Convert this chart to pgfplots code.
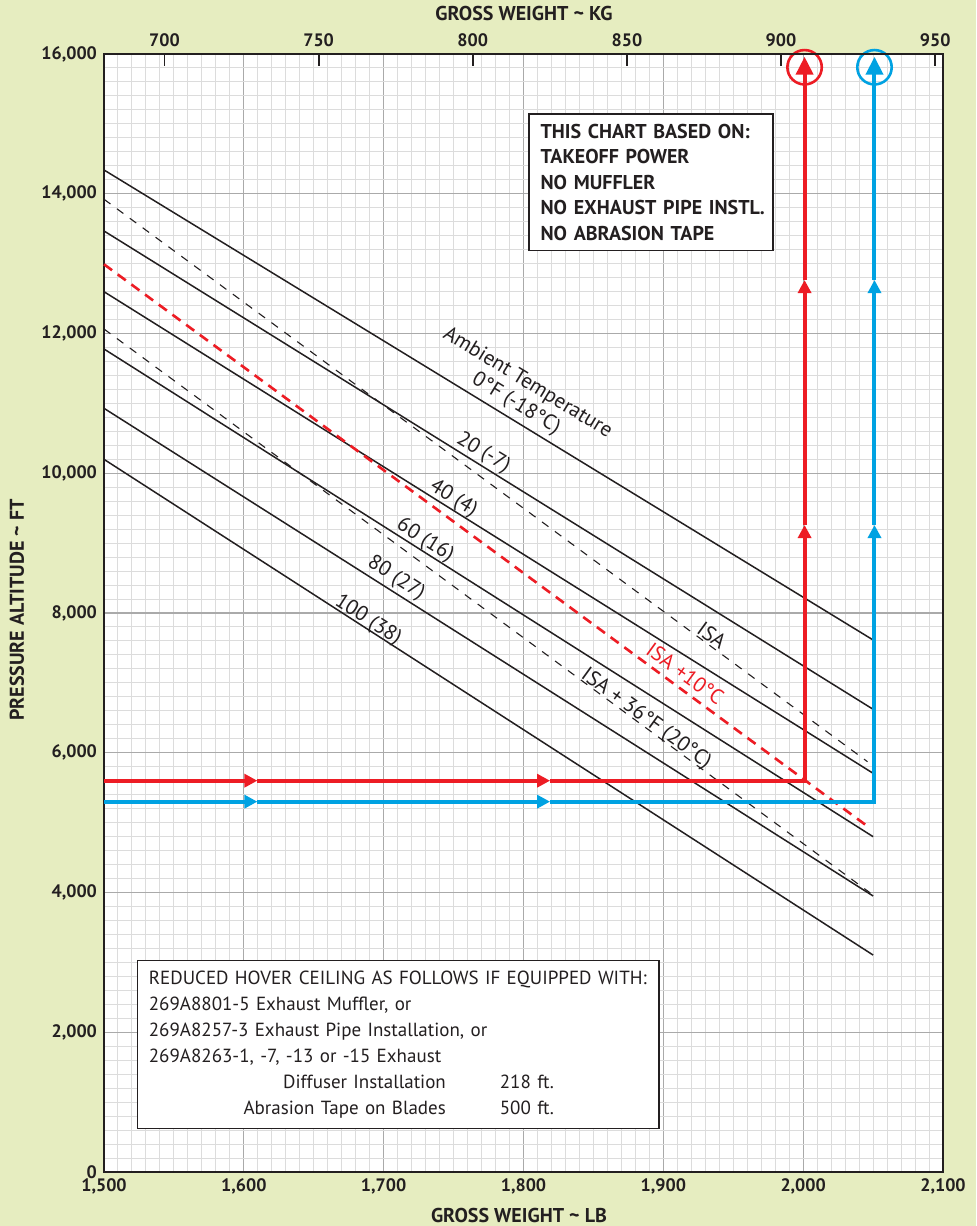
\documentclass[border=0pt]{standalone}
\usepackage{fontspec}
\setmainfont{PT Sans}
\usepackage{pgfplots}
\pgfplotsset{compat=1.18}
\usetikzlibrary{arrows.meta}
\pgfdeclarelayer{background}
\pgfsetlayers{background,main}

\definecolor{bggreen}{HTML}{E6EDC0}
\definecolor{figred}{HTML}{ED1C24}
\definecolor{figblue}{HTML}{00A2E2}
\definecolor{gridmin}{HTML}{DCDCDC}
\definecolor{gridmaj}{HTML}{AAAAAA}
\definecolor{txt}{HTML}{231F20}

\begin{document}
\begin{tikzpicture}
\begin{axis}[
    scale only axis,
    width=419.5pt, height=559pt,
    xmin=1500, xmax=2100, ymin=0, ymax=16000,
    xtick={1500,1600,...,2100},
    ytick={0,2000,...,16000},
    scaled ticks=false,
    minor x tick num=9, minor y tick num=9,
    grid=both,
    major grid style={draw=gridmaj, line width=0.6pt},
    minor grid style={draw=gridmin, line width=0.5pt},
    major tick length=0pt, minor tick length=0pt,
    axis line style={draw=txt, line width=0.9pt},
    axis background/.style={fill=white},
    /pgf/number format/1000 sep={,},
    /pgf/number format/assume math mode=true,
    tick label style={font=\fontsize{9}{10}\selectfont\bfseries, text=txt},
    xlabel={GROSS WEIGHT \textasciitilde\ LB},
    ylabel={PRESSURE ALTITUDE \textasciitilde\ FT},
    label style={font=\fontsize{10}{11}\selectfont\bfseries, text=txt},
    xlabel style={at={(rel axis cs:0.4946,-0.0385)}, anchor=center},
    ylabel style={at={(rel axis cs:-0.1037,0.5027)}, anchor=center},
    clip=false,
]
% temperature lines (solid)
\addplot[draw=txt, line width=0.75pt] coordinates {(1500,14340) (2050,7614)};   % 0 F
\addplot[draw=txt, line width=0.75pt] coordinates {(1500,13467) (2050,6622)};   % 20
\addplot[draw=txt, line width=0.75pt] coordinates {(1500,12598) (2050,5706)};   % 40
\addplot[draw=txt, line width=0.75pt] coordinates {(1500,11778) (2050,4799)};   % 60
\addplot[draw=txt, line width=0.75pt] coordinates {(1500,10929) (2050,3950)};   % 80
\addplot[draw=txt, line width=0.75pt] coordinates {(1500,10199) (2050,3105)};   % 100
% ISA lines (dashed)
\addplot[draw=txt, line width=0.55pt, dash pattern=on 4pt off 4pt] coordinates {(1500,13921) (2046,5872)};
\addplot[draw=txt, line width=0.55pt, dash pattern=on 4pt off 4pt] coordinates {(1500,12064) (2048,3993)};
\addplot[draw=figred, line width=1.3pt, dash pattern=on 5pt off 3.5pt] coordinates {(1500,12990) (2047,4933)};

% red example path
\addplot[draw=figred, line width=2pt, -{Triangle[length=6.5pt,width=6.5pt]}] coordinates {(1500,5600) (1609.7,5600)};
\addplot[draw=figred, line width=2pt, -{Triangle[length=6.5pt,width=6.5pt]}] coordinates {(1609.7,5600) (1819,5600)};
\addplot[draw=figred, line width=2pt, -{Triangle[length=6.5pt,width=6.5pt]}] coordinates {(1819,5600) (2001,5600) (2001,9259)};
\addplot[draw=figred, line width=2pt, -{Triangle[length=6.5pt,width=6.5pt]}] coordinates {(2001,9259) (2001,12765)};
\addplot[draw=figred, line width=2pt, -{Triangle[length=9pt,width=8.5pt]}] coordinates {(2001,12765) (2001,15961)};
\addplot[only marks, mark=o, mark size=8.6pt, mark options={draw=figred, line width=1.3pt}] coordinates {(2001,15810)};

% blue example path
\addplot[draw=figblue, line width=2pt, -{Triangle[length=6.5pt,width=6.5pt]}] coordinates {(1500,5300) (1609.7,5300)};
\addplot[draw=figblue, line width=2pt, -{Triangle[length=6.5pt,width=6.5pt]}] coordinates {(1609.7,5300) (1819,5300)};
\addplot[draw=figblue, line width=2pt, -{Triangle[length=6.5pt,width=6.5pt]}] coordinates {(1819,5300) (2051,5300) (2051,9259)};
\addplot[draw=figblue, line width=2pt, -{Triangle[length=6.5pt,width=6.5pt]}] coordinates {(2051,9259) (2051,12765)};
\addplot[draw=figblue, line width=2pt, -{Triangle[length=9pt,width=8.5pt]}] coordinates {(2051,12765) (2051,15961)};
\addplot[only marks, mark=o, mark size=8.6pt, mark options={draw=figblue, line width=1.3pt}] coordinates {(2051,15810)};

% line labels
\begin{scope}[every node/.style={font=\fontsize{10.5}{11}\selectfont, text=txt, inner sep=0pt}]
\node[rotate=-31.4] at (axis cs:1802.9,11290) {Ambient Temperature};
\node[rotate=-31.4] at (axis cs:1794.6,10990) {0°F (-18°C)};
\node[rotate=-31.4] at (axis cs:1771.3,10290) {20 (-7)};
\node[rotate=-31.8] at (axis cs:1749.9,9635) {40 (4)};
\node[rotate=-32] at (axis cs:1729.6,9040) {60 (16)};
\node[rotate=-32.4] at (axis cs:1708.9,8495) {80 (27)};
\node[rotate=-32.8] at (axis cs:1688.8,7895) {100 (38)};
\node[rotate=-36] at (axis cs:1934.7,7680) {ISA};
\node[rotate=-36, text=figred] at (axis cs:1915.6,7130) {ISA +10°C};
\node[rotate=-36] at (axis cs:1887.6,6485) {ISA + 36°F (20°C)};
\end{scope}

% notes
\node[draw=txt, line width=0.6pt, fill=white, anchor=north west,
      inner xsep=5.8pt, inner ysep=5pt, text width=110.4pt, align=left,
      font=\fontsize{10}{12.8}\selectfont\bfseries, text=txt]
  at (axis cs:1803.5,15151)
  {THIS CHART BASED ON:\\TAKEOFF POWER\\NO MUFFLER\\\mbox{NO EXHAUST PIPE INSTL.}\\NO ABRASION TAPE};
\node[draw=txt, line width=0.6pt, fill=white, anchor=north west,
      inner xsep=5.5pt, inner ysep=5.3pt, text width=249.5pt, align=left,
      font=\fontsize{9.5}{13}\selectfont, text=txt]
  at (axis cs:1523.8,3040)
  {\mbox{REDUCED HOVER CEILING AS FOLLOWS IF EQUIPPED WITH:}\\
   269A8801-5 Exhaust Muffler, or\\
   269A8257-3 Exhaust Pipe Installation, or\\
   269A8263-1, -7, -13 or -15 Exhaust\\
   \makebox[148.5pt][r]{Diffuser Installation}\hspace{27pt}218 ft.\\
   \makebox[148.5pt][r]{Abrasion Tape on Blades}\hspace{27pt}500 ft.};

\coordinate (bgbl) at (rel axis cs:-0.12396,-0.0483);
\coordinate (bgtr) at (rel axis cs:1.03933,1.0483);
\coordinate (gpos) at (rel axis cs:-0.081,1.0600);
\end{axis}

% kilogram scale on top
\begin{axis}[
    scale only axis,
    width=419.5pt, height=559pt,
    xmin=680.389, xmax=952.544, ymin=0, ymax=1,
    axis x line*=top, hide y axis,
    xtick={700,750,...,950},
    tick align=inside,
    major tick length=6pt,
    tick style={draw=txt, line width=0.9pt},
    axis line style={draw=txt, line width=0.9pt},
    tick label style={font=\fontsize{9}{10}\selectfont\bfseries, text=txt},
    /pgf/number format/assume math mode=true,
    xlabel={GROSS WEIGHT \textasciitilde\ KG},
    xlabel style={at={(rel axis cs:0.5006,1.0358)}, anchor=center,
                  font=\fontsize{10}{11}\selectfont\bfseries, text=txt},
]
\end{axis}

\node[text=figred, font=\fontsize{26}{26}\selectfont\bfseries, anchor=base, inner sep=0pt] at (gpos) {g};

\begin{pgfonlayer}{background}
\fill[bggreen] (bgbl) rectangle (bgtr);
\end{pgfonlayer}
\pgfresetboundingbox
\path[use as bounding box] (bgbl) rectangle (bgtr);
\end{tikzpicture}
\end{document}
